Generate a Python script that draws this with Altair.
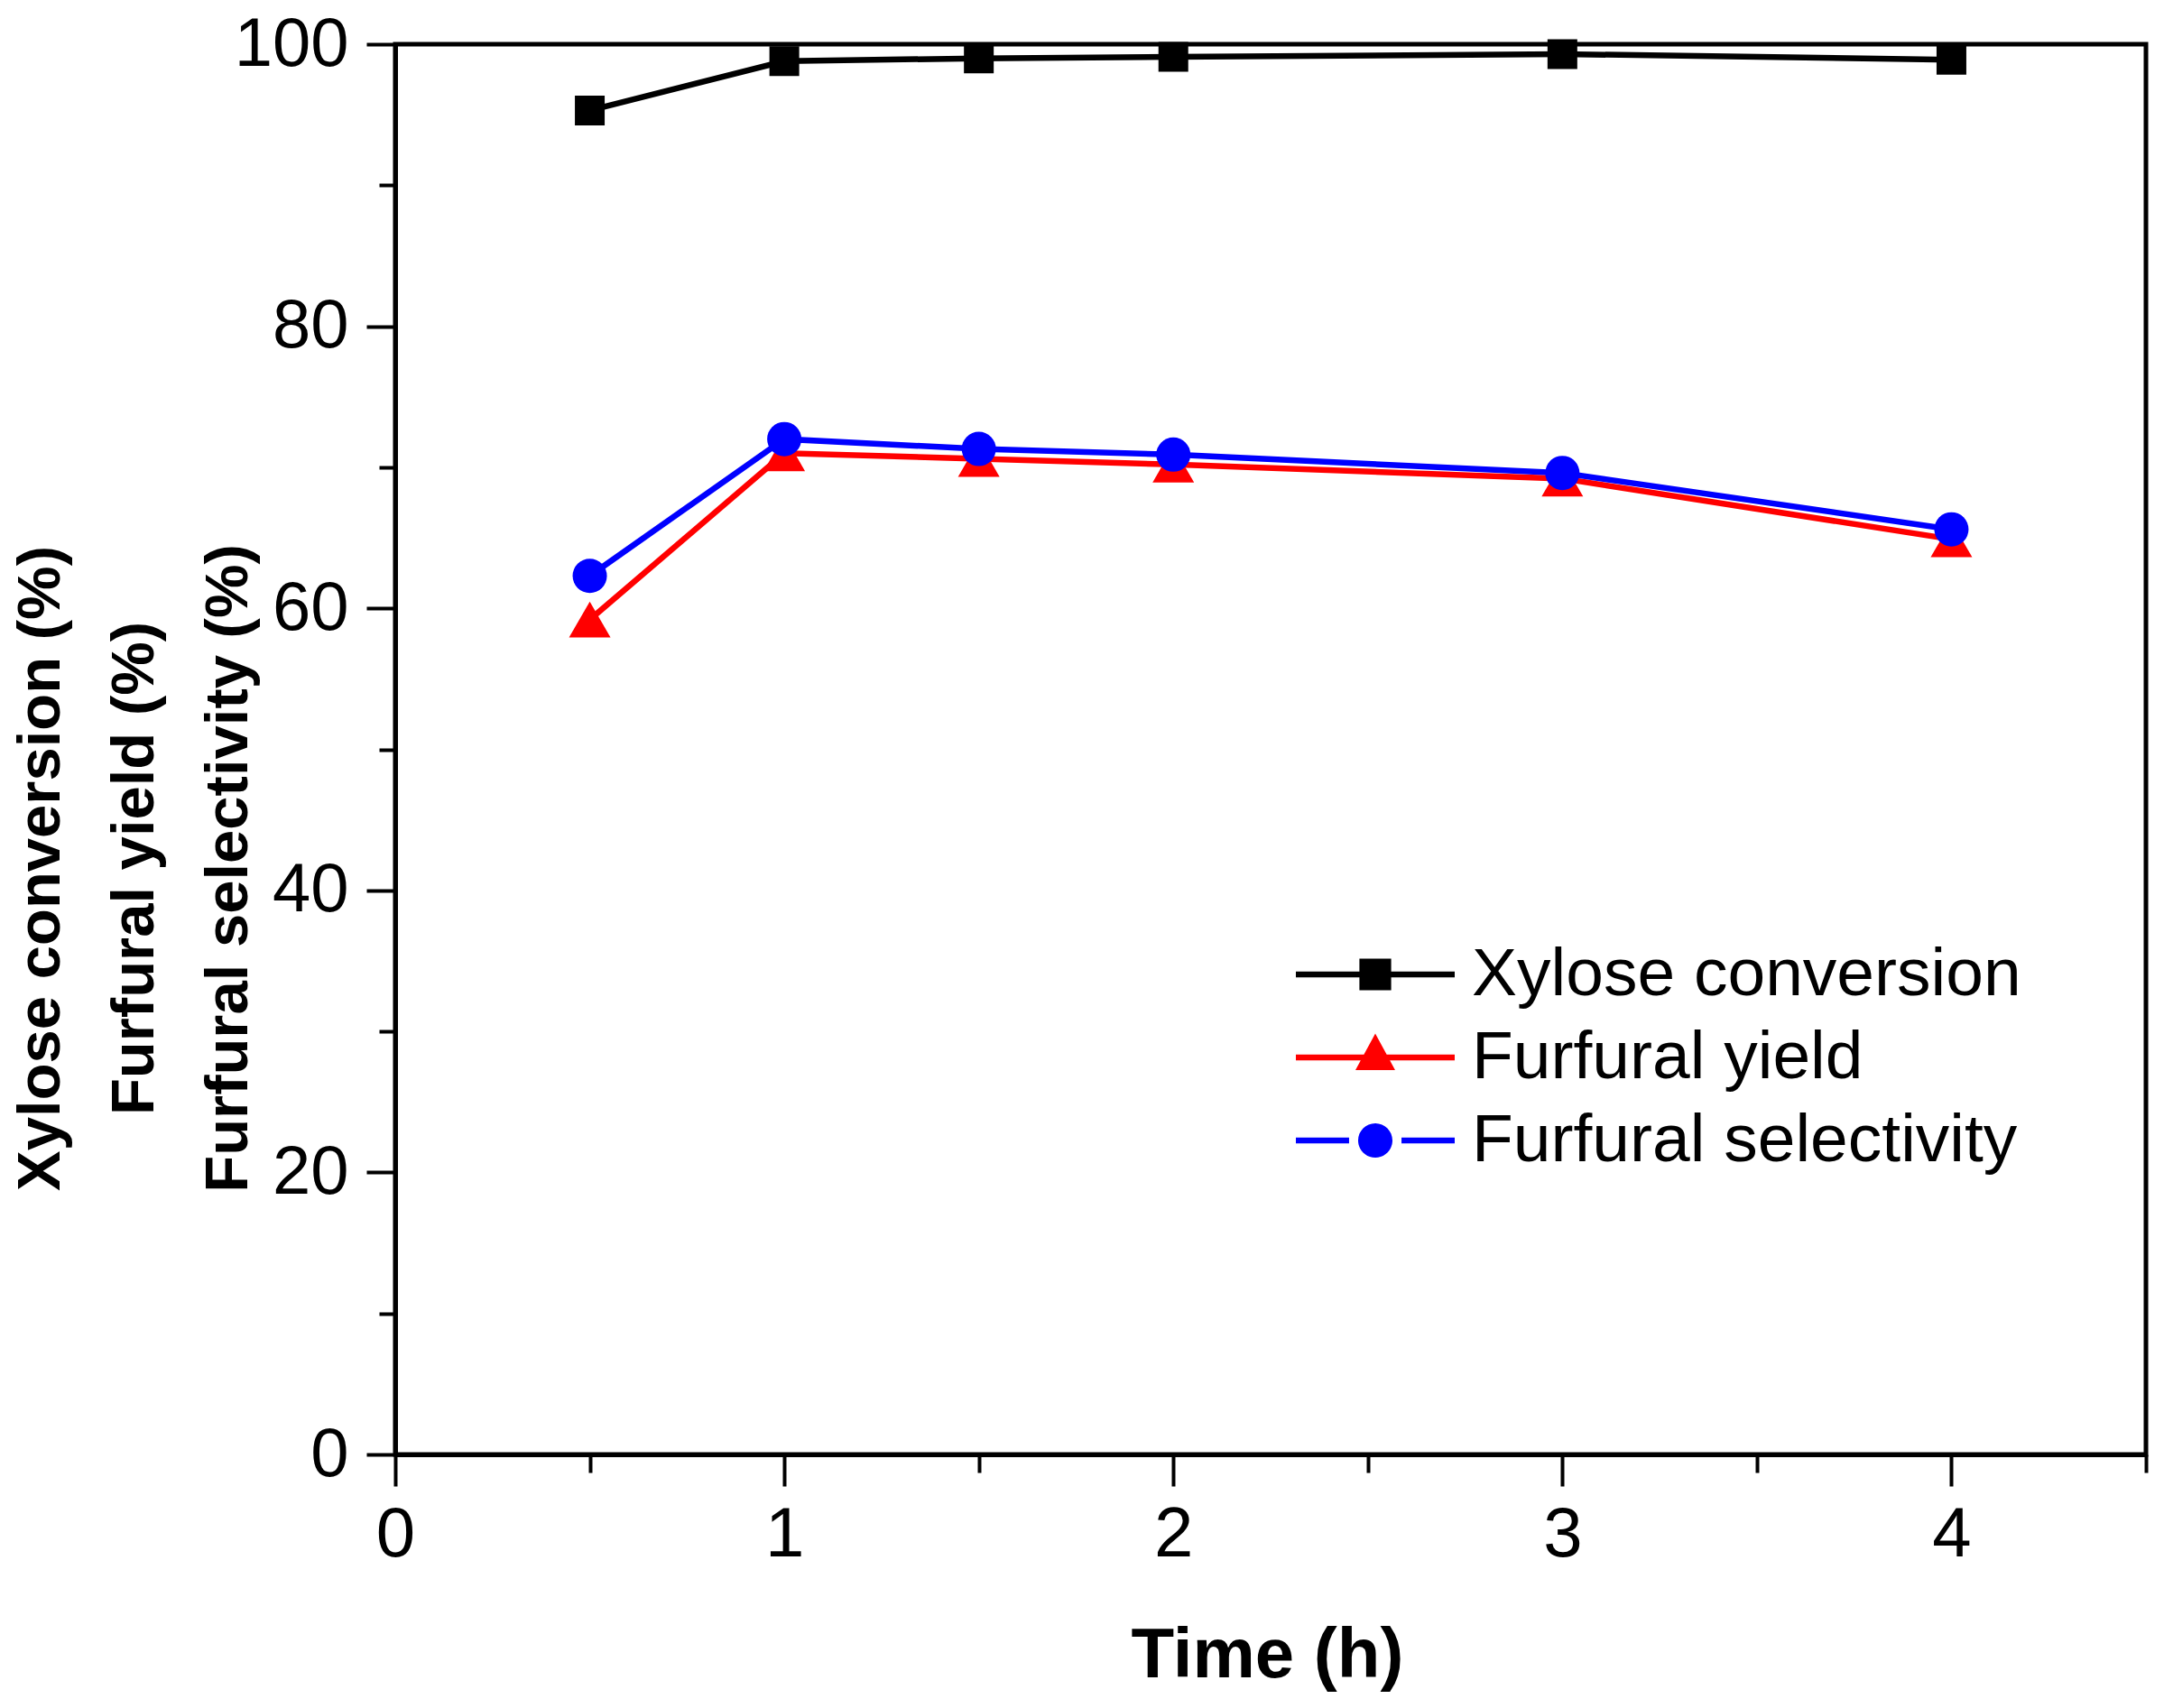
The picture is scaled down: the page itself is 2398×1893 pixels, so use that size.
import altair as alt
import pandas as pd

FONT = "Liberation Sans, Arial, Helvetica, sans-serif"

# ---- data ----
time_h = [0.5, 1, 1.5, 2, 3, 4]
xylose_conversion = [95.3, 98.8, 99.0, 99.1, 99.3, 98.9]
furfural_yield = [59.2, 71.0, 70.6, 70.2, 69.2, 64.9]
furfural_selectivity = [62.3, 72.0, 71.3, 70.9, 69.6, 65.6]

series_names = ["Xylose conversion", "Furfural yield", "Furfural selectivity"]
series_colors = ["#000000", "#ff0000", "#0000ff"]
marker_shapes = ["square", "triangle-up", "circle"]
marker_sizes = [1089, 2116, 1444]

x_ticks = [0, 0.5, 1, 1.5, 2, 2.5, 3, 3.5, 4, 4.5]
y_ticks = [0, 10, 20, 30, 40, 50, 60, 70, 80, 90, 100]

y_title = ["Xylose conversion (%)", "Furfural yield  (%)", "Furfural selectivity (%)"]
x_title = "Time (h)"

# legend symbols: line segment with marker (unit coordinates, scaled by symbol size)
legend_paths = [
    "M-1,-0.038H1V0.038H-1Z M-0.2,-0.2H0.2V0.2H-0.2Z",
    "M-1,-0.038H1V0.038H-1Z M0,-0.3L0.25,0.16H-0.25Z",
    "M-1,-0.038H-0.33V0.038H-1Z M0.33,-0.038H1V0.038H0.33Z "
    "M-0.216,0A0.216,0.216 0 1,1 0.216,0A0.216,0.216 0 1,1 -0.216,0Z",
]

rows = []
for name, vals in zip(series_names, [xylose_conversion, furfural_yield, furfural_selectivity]):
    for t, v in zip(time_h, vals):
        rows.append({"time": t, "value": v, "series": name})
df = pd.DataFrame(rows)

x_enc = alt.X(
    "time:Q",
    scale=alt.Scale(domain=[0, 4.5], nice=False, zero=False),
    axis=alt.Axis(
        title=x_title,
        values=x_ticks,
        labelExpr="datum.value % 1 === 0 ? format(datum.value, 'd') : ''",
        tickSize={"condition": {"test": "datum.value % 1 === 0", "value": 35}, "value": 20},
        labelPadding=15,
        labelFlush=False,
        labelOverlap=False,
        labelFontSize=78,
        titleFontSize=78,
        titleFontWeight="bold",
        titleX=966,
        titleY=246,
        titleBaseline="alphabetic",
        titleAnchor="middle",
    ),
)

y_enc = alt.Y(
    "value:Q",
    scale=alt.Scale(domain=[0, 100], nice=False, zero=True),
    axis=alt.Axis(
        title=y_title,
        values=y_ticks,
        labelExpr="datum.value % 20 === 0 ? format(datum.value, 'd') : ''",
        tickSize={"condition": {"test": "datum.value % 20 === 0", "value": 32}, "value": 18},
        labelPadding=20,
        labelOverlap=False,
        labelFontSize=76,
        titleFontSize=67,
        titleFontWeight="bold",
        titleLineHeight=104,
        titleAngle=270,
        titleAlign="center",
        titleBaseline="middle",
        titleX=-393,
        titleY=913,
    ),
)

base = alt.Chart(df)

lines = base.mark_line(strokeWidth=6.5).encode(
    x=x_enc,
    y=y_enc,
    color=alt.Color("series:N", scale=alt.Scale(domain=series_names, range=series_colors), legend=None),
    detail="series:N",
)

point_layers = []
for name, col, shp, sz in zip(series_names, series_colors, marker_shapes, marker_sizes):
    point_layers.append(
        base.transform_filter(alt.datum.series == name)
        .mark_point(filled=True, opacity=1, shape=shp, size=sz, color=col, strokeWidth=0)
        .encode(x=x_enc, y=y_enc)
    )

leg = alt.Legend(
    title=None,
    orient="none",
    legendX=998,
    legendY=991,
    padding=0,
    direction="vertical",
    symbolSize=30976,
    symbolStrokeWidth=0,
    symbolOpacity=1,
    clipHeight=80,
    rowPadding=12,
    labelFontSize=75,
    labelFont=FONT,
    labelColor="black",
    labelOffset=19,
    labelLimit=1200,
)

legend_layer = base.mark_point(filled=True, opacity=0).encode(
    x=x_enc,
    y=y_enc,
    color=alt.Color("series:N", scale=alt.Scale(domain=series_names, range=series_colors), legend=leg),
    shape=alt.Shape("series:N", scale=alt.Scale(domain=series_names, range=legend_paths), legend=leg),
)

chart = (
    alt.layer(lines, *point_layers, legend_layer)
    .resolve_scale(color="independent", shape="independent")
    .properties(
        width=1940,
        height=1563,
        autosize=alt.AutoSizeParams(type="none"),
        padding={"left": 430, "top": 41, "right": 12, "bottom": 273},
        background="white",
    )
    .configure_view(stroke="black", strokeWidth=5)
    .configure_axis(
        grid=False,
        domainColor="black",
        domainWidth=5,
        tickColor="black",
        tickWidth=4,
        labelColor="black",
        titleColor="black",
        labelFont=FONT,
        titleFont=FONT,
    )
)

chart.save("out.html", embed_options={"renderer": "svg", "actions": False})
